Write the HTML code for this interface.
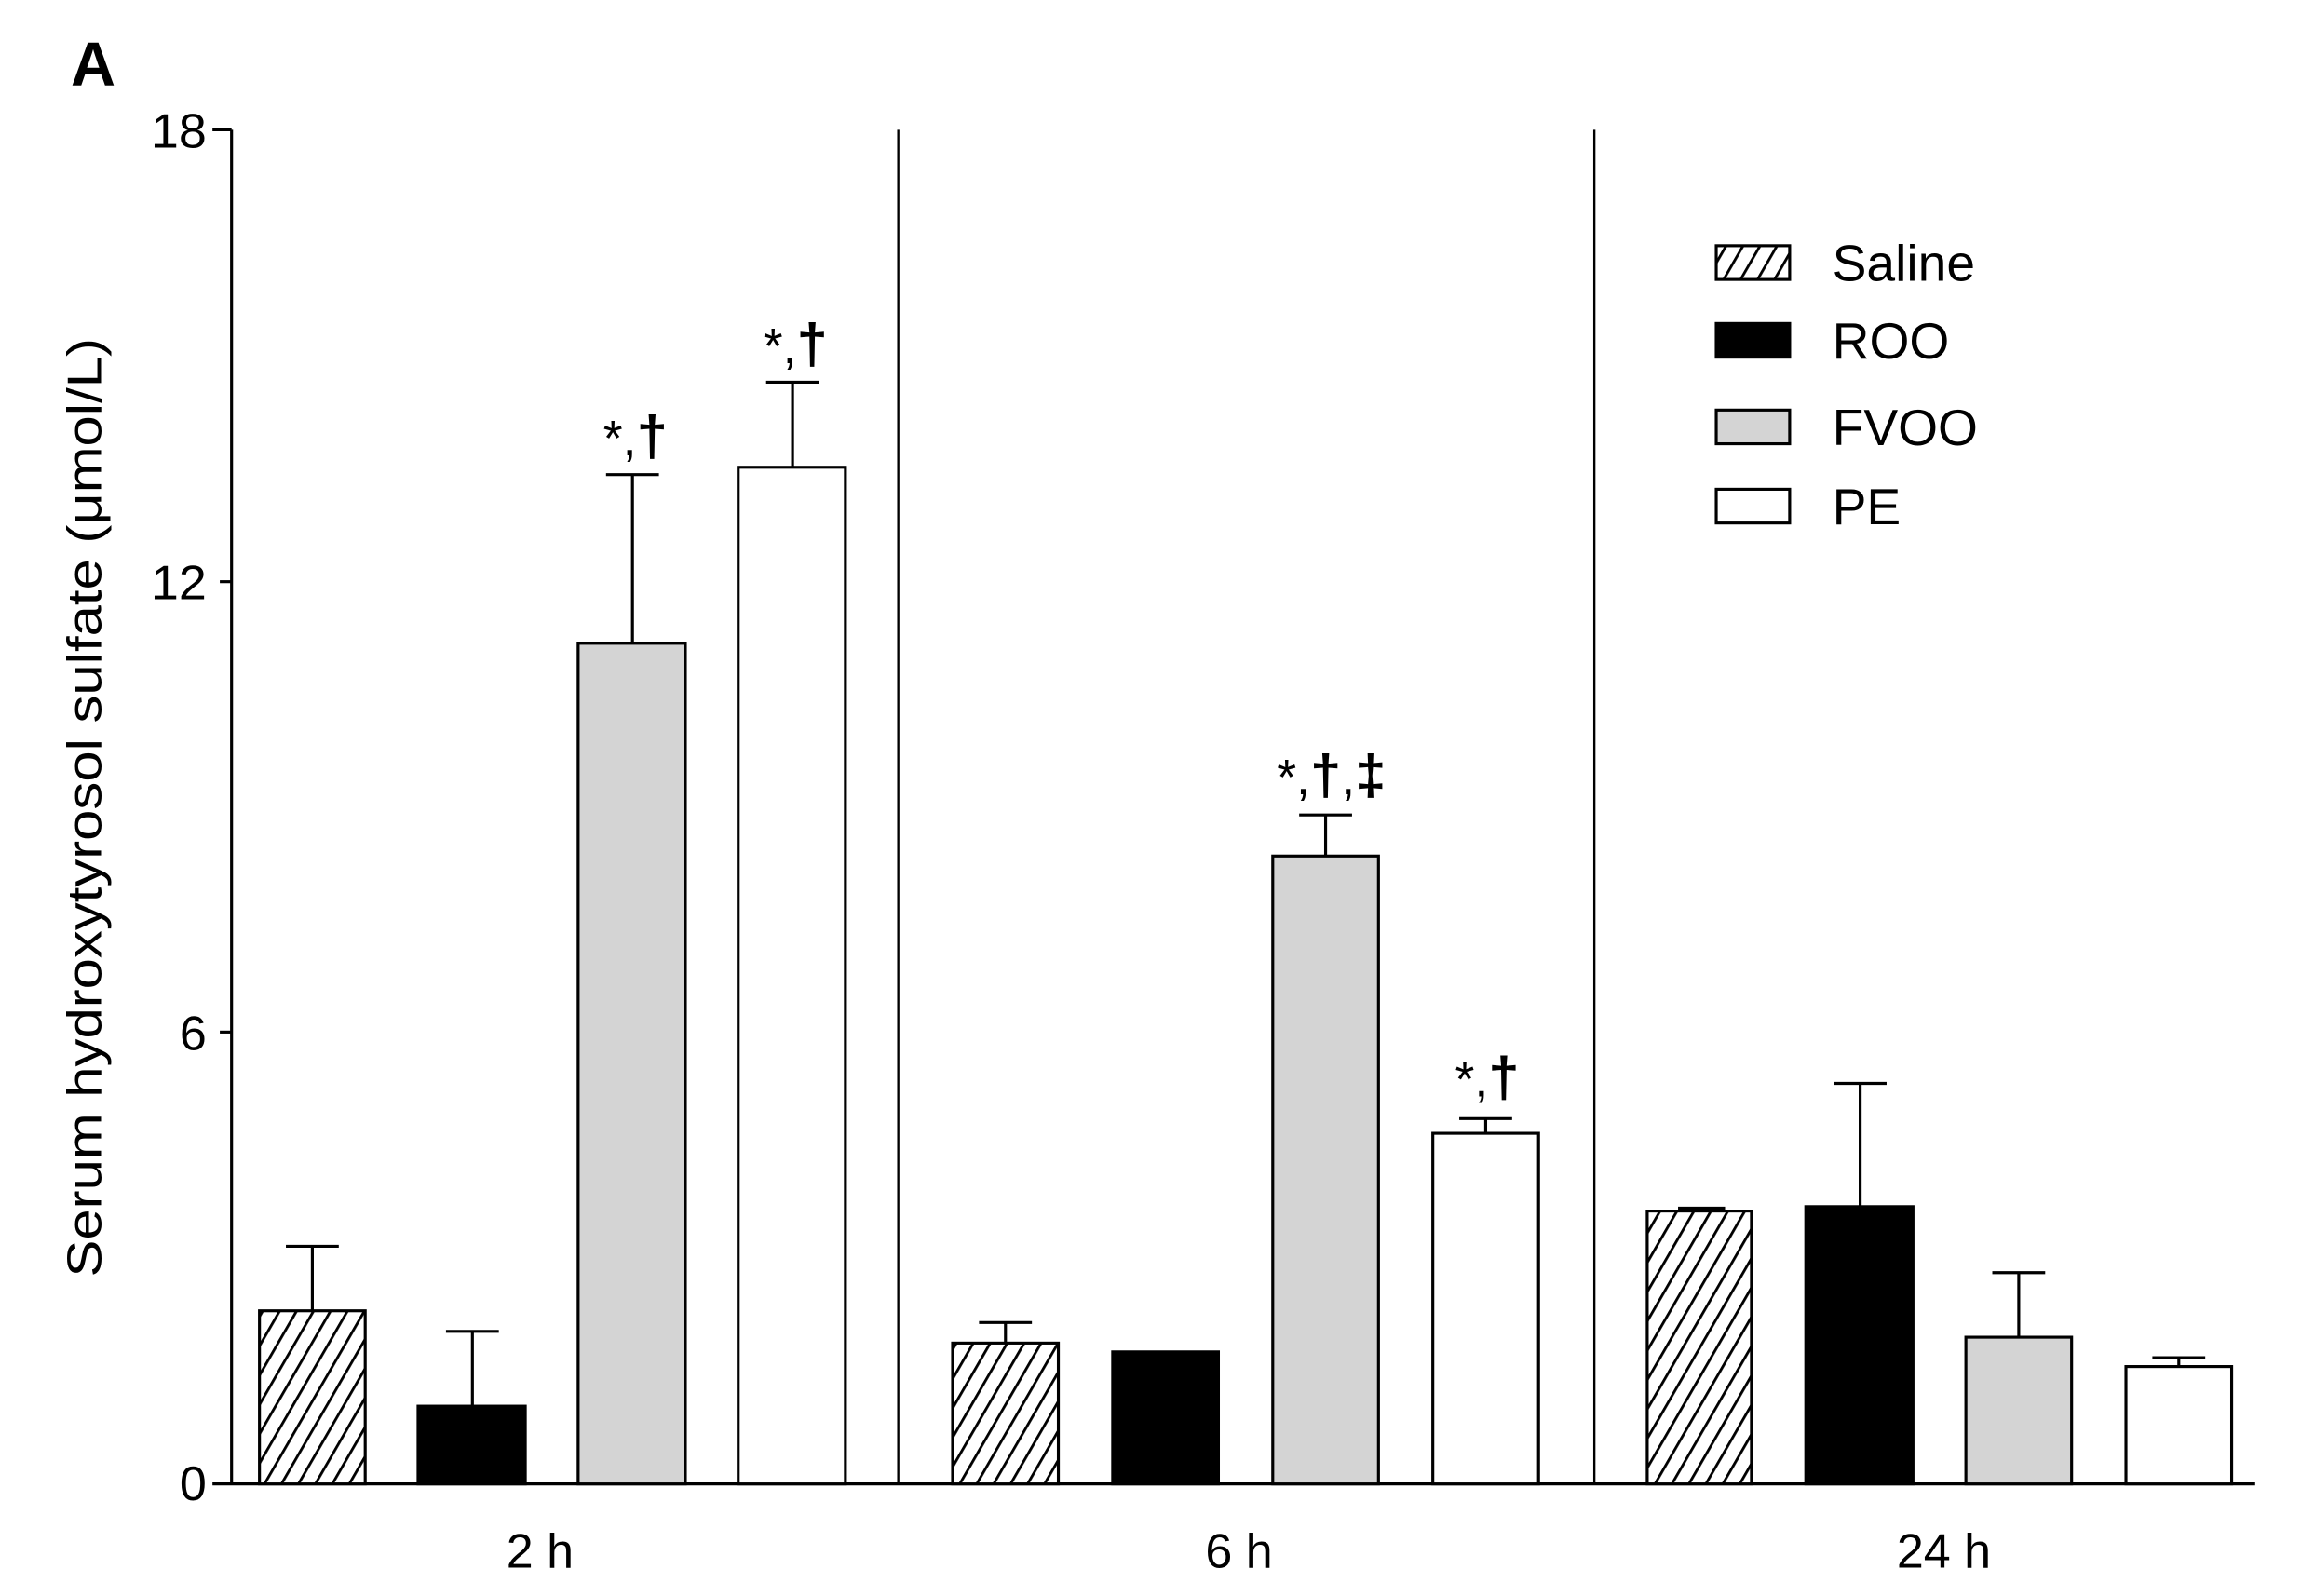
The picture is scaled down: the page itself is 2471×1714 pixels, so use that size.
<!DOCTYPE html>
<html><head><meta charset="utf-8"><style>html,body{margin:0;padding:0;background:#fff}svg{display:block}</style></head>
<body>
<svg width="2471" height="1714" viewBox="0 0 1560 1082" preserveAspectRatio="none" xmlns="http://www.w3.org/2000/svg" font-family="Liberation Sans, Arial, sans-serif">
<defs>
<pattern id="h" width="10" height="10" patternUnits="userSpaceOnUse" patternTransform="rotate(30)">
<rect width="10" height="10" fill="#fff"/><rect x="0" y="0" width="1.8" height="10" fill="#000"/>
</pattern>
</defs>
<rect width="1560" height="1082" fill="#fff"/>
<text x="48" y="58" font-size="42" font-weight="bold">A</text>
<g transform="translate(157,88) scale(0.9956,0.9946) translate(-157,-88)">
<g stroke="#000" stroke-width="2" fill="none">
<line x1="157" y1="88" x2="157" y2="1011"/>
<line x1="144" y1="1011" x2="1535" y2="1011"/>
<line x1="144" y1="88" x2="157" y2="88"/>
<line x1="149" y1="396" x2="157" y2="396"/>
<line x1="149" y1="703" x2="157" y2="703"/>
<line x1="611" y1="88" x2="611" y2="1011" stroke-width="1.5"/>
<line x1="1085" y1="88" x2="1085" y2="1011" stroke-width="1.5"/>
</g>
<g font-size="33" text-anchor="end">
<text x="140" y="100" textLength="38" lengthAdjust="spacingAndGlyphs">18</text>
<text x="140" y="408" textLength="38" lengthAdjust="spacingAndGlyphs">12</text>
<text x="140" y="715">6</text>
<text x="140" y="1022">0</text>
</g>
<text transform="translate(68,550) rotate(-90)" font-size="33" text-anchor="middle" textLength="640" lengthAdjust="spacingAndGlyphs">Serum hydroxytyrosol sulfate (μmol/L)</text>
<g font-size="33" text-anchor="middle">
<text x="367" y="1068">2 h</text>
<text x="843" y="1068">6 h</text>
<text x="1323" y="1068">24 h</text>
</g>
<g stroke="#000" stroke-width="2">
<line x1="212" y1="893" x2="212" y2="849"/><line x1="194" y1="849" x2="230" y2="849"/>
<line x1="321" y1="958" x2="321" y2="907"/><line x1="303" y1="907" x2="339" y2="907"/>
<line x1="430" y1="438" x2="430" y2="323"/><line x1="412" y1="323" x2="448" y2="323"/>
<line x1="539" y1="318" x2="539" y2="260"/><line x1="521" y1="260" x2="557" y2="260"/>
<line x1="684" y1="915" x2="684" y2="901"/><line x1="666" y1="901" x2="702" y2="901"/>
<line x1="902" y1="583" x2="902" y2="555"/><line x1="884" y1="555" x2="920" y2="555"/>
<line x1="1011" y1="772" x2="1011" y2="762"/><line x1="993" y1="762" x2="1029" y2="762"/>
<line x1="1142" y1="823" x2="1174" y2="823"/>
<line x1="1266" y1="822" x2="1266" y2="738"/><line x1="1248" y1="738" x2="1284" y2="738"/>
<line x1="1374" y1="911" x2="1374" y2="867"/><line x1="1356" y1="867" x2="1392" y2="867"/>
<line x1="1483" y1="931" x2="1483" y2="925"/><line x1="1465" y1="925" x2="1501" y2="925"/>
</g>
<g stroke="#000" stroke-width="2">
<rect x="176" y="893" width="72" height="118" fill="url(#h)"/>
<rect x="284" y="958" width="73" height="53" fill="#000"/>
<rect x="393" y="438" width="73" height="573" fill="#d4d4d4"/>
<rect x="502" y="318" width="73" height="693" fill="#fff"/>
<rect x="648" y="915" width="72" height="96" fill="url(#h)"/>
<rect x="757" y="921" width="72" height="90" fill="#000"/>
<rect x="866" y="583" width="72" height="428" fill="#d4d4d4"/>
<rect x="975" y="772" width="72" height="239" fill="#fff"/>
<rect x="1121" y="825" width="71" height="186" fill="url(#h)"/>
<rect x="1229" y="822" width="73" height="189" fill="#000"/>
<rect x="1338" y="911" width="72" height="100" fill="#d4d4d4"/>
<rect x="1447" y="931" width="72" height="80" fill="#fff"/>
</g>
<g font-size="34" text-anchor="middle">
<text x="432" y="310">*,<tspan font-weight="bold" font-size="38">†</tspan></text>
<text x="541" y="247">*,<tspan font-weight="bold" font-size="38">†</tspan></text>
<text x="906" y="541">*,<tspan font-weight="bold" font-size="38">†</tspan>,<tspan font-weight="bold" font-size="38">‡</tspan></text>
<text x="1012" y="747">*,<tspan font-weight="bold" font-size="38">†</tspan></text>
</g>
<g stroke="#000" stroke-width="2">
<rect x="1168" y="167" width="50" height="23" fill="url(#h)"/>
<rect x="1168" y="220" width="50" height="23" fill="#000"/>
<rect x="1168" y="279" width="50" height="23" fill="#d4d4d4"/>
<rect x="1168" y="333" width="50" height="23" fill="#fff"/>
</g>
<g font-size="35">
<text x="1247" y="191">Saline</text>
<text x="1247" y="244">ROO</text>
<text x="1247" y="303">FVOO</text>
<text x="1247" y="357">PE</text>
</g>
</g>
</svg>
</body></html>
